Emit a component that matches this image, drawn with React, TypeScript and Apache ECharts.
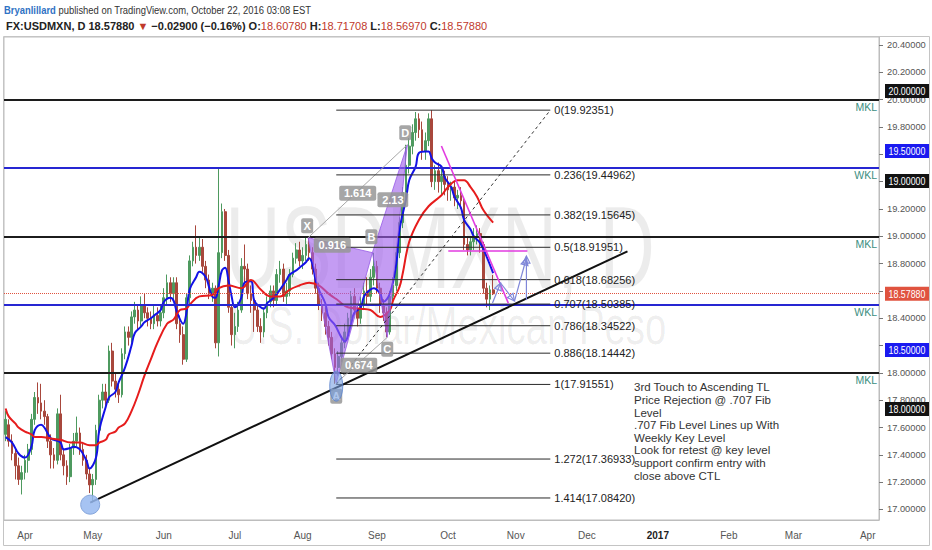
import React, { useEffect, useRef } from "react";
import * as echarts from "echarts";

const SANS = "'Liberation Sans', Arial, sans-serif";

// ---------- data ----------
// [open, close, low, high], one per trading day from 2016-03-24 to 2016-10-21
const candles: number[][] = [
  [17.55, 17.66, 17.5, 17.72], [17.62, 17.5, 17.46, 17.66], [17.5, 17.41, 17.36, 17.55], [17.41, 17.32, 17.22, 17.44],
  [17.32, 17.22, 17.18, 17.38], [17.22, 17.27, 17.11, 17.32], [17.27, 17.36, 17.22, 17.4], [17.36, 17.44, 17.27, 17.48],
  [17.44, 17.66, 17.4, 17.7], [17.66, 17.82, 17.62, 17.86], [17.82, 17.78, 17.7, 17.93], [17.78, 17.72, 17.66, 17.92],
  [17.72, 17.68, 17.62, 17.8], [17.68, 17.5, 17.45, 17.7], [17.5, 17.4, 17.3, 17.55], [17.4, 17.36, 17.3, 17.45],
  [17.36, 17.7, 17.33, 17.74], [17.7, 17.4, 17.36, 17.84], [17.4, 17.32, 17.25, 17.45], [17.32, 17.24, 17.18, 17.36],
  [17.24, 17.45, 17.2, 17.48], [17.45, 17.5, 17.4, 17.56], [17.5, 17.56, 17.46, 17.68], [17.56, 17.44, 17.4, 17.6],
  [17.44, 17.36, 17.32, 17.48], [17.36, 17.26, 17.22, 17.4], [17.26, 17.18, 17.12, 17.3], [17.18, 17.22, 17.05, 17.26],
  [17.22, 17.58, 17.18, 17.62], [17.58, 17.8, 17.54, 17.84], [17.8, 17.86, 17.74, 17.92], [17.86, 17.8, 17.74, 17.92],
  [17.8, 18.16, 17.78, 18.2], [18.16, 17.94, 17.9, 18.22], [17.94, 17.88, 17.82, 18.0], [17.88, 17.84, 17.78, 17.92],
  [17.84, 18.14, 17.82, 18.18], [18.14, 18.3, 18.1, 18.34], [18.3, 18.26, 18.2, 18.34], [18.26, 18.41, 18.22, 18.45],
  [18.41, 18.46, 18.36, 18.52], [18.46, 18.38, 18.32, 18.5], [18.38, 18.5, 18.34, 18.56], [18.5, 18.44, 18.4, 18.58],
  [18.44, 18.4, 18.34, 18.48], [18.4, 18.36, 18.32, 18.45], [18.36, 18.42, 18.32, 18.5], [18.42, 18.38, 18.34, 18.48],
  [18.38, 18.44, 18.34, 18.5], [18.44, 18.55, 18.4, 18.62], [18.55, 18.66, 18.5, 18.72], [18.66, 18.58, 18.52, 18.7],
  [18.58, 18.66, 18.54, 18.7], [18.66, 18.36, 18.32, 18.7], [18.36, 18.28, 18.22, 18.42], [18.28, 18.1, 18.06, 18.34],
  [18.1, 18.55, 18.08, 18.58], [18.55, 18.82, 18.5, 18.86], [18.82, 18.92, 18.78, 18.96], [18.92, 18.86, 18.8, 19.08],
  [18.86, 18.92, 18.82, 19.0], [18.92, 18.78, 18.74, 18.98], [18.78, 18.68, 18.62, 18.82], [18.68, 18.58, 18.54, 18.72],
  [18.58, 18.62, 18.52, 18.66], [18.62, 18.22, 18.18, 18.64], [18.22, 18.88, 18.12, 19.5], [18.88, 19.18, 18.84, 19.24],
  [19.18, 18.86, 18.82, 19.2], [18.86, 18.48, 18.44, 18.9], [18.48, 18.28, 18.2, 18.5], [18.28, 18.34, 18.18, 18.44],
  [18.34, 18.46, 18.3, 18.52], [18.46, 18.78, 18.44, 18.84], [18.78, 18.76, 18.66, 18.94], [18.76, 18.58, 18.54, 18.8],
  [18.58, 18.53, 18.44, 18.64], [18.53, 18.46, 18.3, 18.56], [18.46, 18.34, 18.3, 18.5], [18.34, 18.3, 18.22, 18.4],
  [18.3, 18.44, 18.26, 18.48], [18.44, 18.52, 18.4, 18.56], [18.52, 18.6, 18.48, 18.64], [18.6, 18.53, 18.48, 18.64],
  [18.53, 18.72, 18.5, 18.76], [18.72, 18.76, 18.66, 18.82], [18.76, 18.56, 18.52, 18.8], [18.56, 18.6, 18.5, 18.66],
  [18.6, 18.72, 18.56, 18.76], [18.72, 18.84, 18.7, 18.88], [18.84, 18.9, 18.8, 18.95], [18.9, 18.82, 18.78, 18.96],
  [18.82, 18.86, 18.76, 18.92], [18.86, 18.94, 18.82, 19.0], [18.94, 18.88, 18.82, 18.99], [18.88, 18.76, 18.72, 18.92],
  [18.76, 18.62, 18.58, 18.8], [18.62, 18.5, 18.46, 18.66], [18.5, 18.44, 18.38, 18.54], [18.44, 18.34, 18.28, 18.48],
  [18.34, 18.26, 18.2, 18.38], [18.26, 18.14, 18.1, 18.3], [18.14, 18.04, 17.92, 18.18], [18.04, 18.12, 17.98, 18.16],
  [18.12, 18.22, 18.08, 18.26], [18.22, 18.3, 18.18, 18.36], [18.3, 18.4, 18.26, 18.44], [18.4, 18.56, 18.36, 18.6],
  [18.56, 18.46, 18.42, 18.62], [18.46, 18.4, 18.34, 18.5], [18.4, 18.5, 18.36, 18.56], [18.5, 18.6, 18.46, 18.66],
  [18.6, 18.56, 18.5, 18.7], [18.56, 18.7, 18.52, 18.76], [18.7, 18.78, 18.64, 18.88], [18.78, 18.62, 18.58, 18.82],
  [18.62, 18.5, 18.44, 18.66], [18.5, 18.44, 18.38, 18.54], [18.44, 18.3, 18.26, 18.48], [18.3, 18.56, 18.28, 18.6],
  [18.56, 18.64, 18.5, 18.7], [18.64, 18.88, 18.6, 18.92], [18.88, 19.1, 18.84, 19.14], [19.1, 19.32, 19.06, 19.36],
  [19.32, 19.52, 19.28, 19.67], [19.52, 19.66, 19.46, 19.72], [19.66, 19.76, 19.6, 19.82], [19.76, 19.86, 19.7, 19.91],
  [19.86, 19.78, 19.72, 19.9], [19.78, 19.62, 19.56, 19.84], [19.62, 19.7, 19.56, 19.76], [19.7, 19.86, 19.66, 19.9],
  [19.86, 19.4, 19.36, 19.92351], [19.4, 19.48, 19.34, 19.52], [19.48, 19.4, 19.32, 19.54], [19.4, 19.44, 19.3, 19.5],
  [19.44, 19.38, 19.3, 19.48], [19.38, 19.34, 19.26, 19.44], [19.34, 19.36, 19.26, 19.4], [19.36, 19.28, 19.22, 19.4],
  [19.28, 19.3, 19.2, 19.34], [19.3, 19.26, 19.2, 19.36], [19.26, 18.94, 18.9, 19.28], [18.94, 18.9, 18.86, 19.0],
  [18.9, 18.96, 18.86, 19.0], [18.96, 19.0, 18.9, 19.06], [19.0, 19.02, 18.94, 19.08], [19.02, 18.94, 18.88, 19.06],
  [18.94, 18.62, 18.58, 18.96], [18.62, 18.54, 18.48, 18.66], [18.54, 18.6078, 18.46, 18.64], [18.6078, 18.5788, 18.5697, 18.71708],
];

// moving averages: [bar index, value]
const maFast: number[][] = [
  [0, 17.53], [2, 17.49], [4, 17.41], [6, 17.38], [8, 17.46], [9, 17.58], [11, 17.62], [12, 17.6], [14, 17.52], [15, 17.51],
  [17, 17.49], [18, 17.44], [20, 17.45], [21, 17.46], [23, 17.44], [25, 17.36], [26, 17.3], [28, 17.38], [29, 17.58], [31, 17.75],
  [32, 17.82], [34, 17.86], [35, 17.93], [37, 18.04], [39, 18.2], [40, 18.29], [42, 18.34], [43, 18.37], [45, 18.4], [46, 18.42],
  [48, 18.46], [49, 18.52], [51, 18.55], [52, 18.53], [53, 18.45], [55, 18.36], [56, 18.44], [57, 18.61], [59, 18.7], [60, 18.74],
  [62, 18.7], [63, 18.63], [64, 18.56], [65, 18.55], [66, 18.64], [67, 18.75], [68, 18.77], [69, 18.68], [70, 18.56], [71, 18.48],
  [73, 18.55], [74, 18.66], [76, 18.67], [77, 18.53], [79, 18.48], [80, 18.47], [81, 18.51], [82, 18.53], [83, 18.55], [85, 18.61],
  [87, 18.68], [88, 18.72], [90, 18.75], [91, 18.77], [93, 18.81], [94, 18.84], [95, 18.8], [96, 18.68], [97, 18.61], [99, 18.51],
  [100, 18.41], [102, 18.35], [104, 18.26], [105, 18.23], [107, 18.36], [108, 18.44], [110, 18.48], [111, 18.56], [113, 18.61],
  [114, 18.62], [116, 18.58], [117, 18.52], [119, 18.58], [121, 18.8], [122, 19.05], [124, 19.27], [125, 19.41], [127, 19.51],
  [128, 19.61], [130, 19.62], [131, 19.62], [132, 19.57], [133, 19.54], [135, 19.51], [136, 19.43], [138, 19.36], [139, 19.29],
  [141, 19.21], [142, 19.12], [144, 19.05], [145, 19.0], [147, 18.95], [149, 18.85], [151, 18.73],
];
const maSlow: number[][] = [
  [0, 17.74], [1, 17.68], [3, 17.63], [4, 17.6], [6, 17.57], [8, 17.55], [9, 17.53], [11, 17.53], [14, 17.52], [17, 17.51],
  [20, 17.49], [23, 17.49], [26, 17.47], [28, 17.47], [29, 17.49], [31, 17.51], [32, 17.55], [34, 17.57], [35, 17.6], [37, 17.63],
  [39, 17.72], [41, 17.84], [43, 17.98], [45, 18.1], [47, 18.22], [50, 18.36], [52, 18.39], [54, 18.46], [56, 18.47], [57, 18.5],
  [60, 18.56], [64, 18.57], [66, 18.62], [69, 18.64], [73, 18.62], [76, 18.68], [79, 18.61], [82, 18.56], [85, 18.56], [88, 18.61],
  [91, 18.64], [94, 18.66], [97, 18.64], [100, 18.58], [103, 18.53], [106, 18.48], [110, 18.47], [113, 18.46], [116, 18.41],
  [119, 18.46], [120, 18.53], [122, 18.63], [123, 18.73], [125, 18.96], [128, 19.12], [131, 19.22], [135, 19.3], [137, 19.36],
  [140, 19.41], [142, 19.41], [144, 19.36], [146, 19.29], [148, 19.19], [151, 19.1],
];

const yTicks = [17.0, 17.2, 17.4, 17.6, 17.8, 18.0, 18.2, 18.4, 18.6, 18.8, 19.0, 19.2, 19.4, 19.6, 19.8, 20.0, 20.2, 20.4];
// labels that stay visible (19.4, 19.6 and 18.6 sit fully under the price badges)
const yTickLabels = [17.0, 17.2, 17.4, 17.6, 17.8, 18.0, 18.2, 18.4, 18.8, 19.0, 19.2, 19.8, 20.0, 20.2, 20.4];
const monthNames = ["Jan", "Feb", "Mar", "Apr", "May", "Jun", "Jul", "Aug", "Sep", "Oct", "Nov", "Dec"];

const keyLevels = [20.0, 19.5, 19.0, 18.5, 18.0];
const keyLevelNames = ["MKL", "WKL", "MKL", "WKL", "MKL"];
const keyLevelColors = ["#1c1c1c", "#2626d2", "#1c1c1c", "#2626d2", "#1c1c1c"];
const lastPrice = 18.5788;

const fibLevels = [0, 0.236, 0.382, 0.5, 0.618, 0.707, 0.786, 0.886, 1, 1.272, 1.414];
const fibPrices = [19.92351, 19.44962, 19.15645, 18.91951, 18.68256, 18.50385, 18.34522, 18.14442, 17.91551, 17.36933, 17.0842];
const fibSpan = [102.4, 168.7];

const trendIdx = [26.2, 192.6];
const trendVal = [17.05, 18.89];

const patternNames = ["X", "A", "B", "C", "D"];
const patternIdx = [93.7, 102.4, 113.6, 118.2, 124.4];
const patternVal = [18.99, 17.925, 18.88, 18.26, 19.67];
const ratioLabels = ["0.916", "0.674", "2.13", "1.614"];
const ratioPairs = [[0, 2], [1, 3], [2, 4], [0, 4]];

const magentaLines = [
  [134.97, 19.661, 155.7, 18.511],
  [137.1, 18.892, 161.6, 18.892],
];
const arrowPath = [[150.8, 18.511], [153.3, 18.658], [157.6, 18.526], [161.3, 18.841]];
const arrowVertical = [[161.3, 18.533], [161.3, 18.855]];

const badgeVals = [20.063, 19.624, 19.404, 18.5788, 18.167, 17.735];
const badgeTexts = ["20.00000", "19.50000", "19.00000", "18.57880", "18.50000", "18.00000"];
const badgeColors = ["#121212", "#1a1af0", "#121212", "#e0533f", "#1a1af0", "#121212"];

const noteLines = [
  "3rd Touch to Ascending TL",
  "Price Rejection @ .707 Fib",
  "Level",
  ".707 Fib Level Lines up With",
  "Weekly Key Level",
  "Look for retest @ key level",
  "support confirm entry with",
  "close above CTL",
];

// trading-day categories (weekdays) for the time axis
function buildDates(): string[] {
  const out: string[] = [];
  const d = new Date(Date.UTC(2016, 2, 24));
  const end = Date.UTC(2017, 3, 6);
  while (d.getTime() <= end) {
    const wd = d.getUTCDay();
    if (wd !== 0 && wd !== 6) out.push(d.toISOString().slice(0, 10));
    d.setUTCDate(d.getUTCDate() + 1);
  }
  return out;
}

export default function App() {
  const ref = useRef<HTMLDivElement>(null);

  useEffect(() => {
    document.body.style.margin = "0";
    document.body.style.background = "#eef1f4";
    const el = ref.current!;
    const chart = echarts.init(el, undefined, { renderer: "svg" });

    const dates = buildDates();
    const monthStarts = new Set<number>();
    for (let i = 1; i < dates.length; i++) {
      if (dates[i].slice(5, 7) !== dates[i - 1].slice(5, 7)) monthStarts.add(i);
    }
    const fmtDate = (v: string) => {
      const m = parseInt(v.slice(5, 7), 10) - 1;
      return m === 0 ? "{y|" + v.slice(0, 4) + "}" : monthNames[m];
    };

    const markData: any[] = keyLevels.map((v, k) => ({
      yAxis: v,
      lineStyle: { color: keyLevelColors[k], width: 2, type: "solid" },
      label: {
        show: true,
        formatter: keyLevelNames[k],
        position: "insideEndBottom",
        color: "#3b8e7f",
        fontSize: 10.5,
        fontFamily: SANS,
        distance: [2, 2],
      },
    }));
    markData.push({
      yAxis: lastPrice,
      lineStyle: { color: "#e0533f", width: 1, type: "dotted" },
      label: { show: false },
    });

    chart.setOption({
      animation: false,
      backgroundColor: "#ffffff",
      grid: { left: 4, right: 53, top: 37, bottom: 30, show: true, borderColor: "#bdbdbd", borderWidth: 1 },
      xAxis: {
        type: "category",
        data: dates,
        boundaryGap: true,
        axisLine: { lineStyle: { color: "#bdbdbd" } },
        axisTick: {
          alignWithLabel: true,
          interval: (i: number) => monthStarts.has(i),
          length: 4,
          lineStyle: { color: "#777" },
        },
        axisLabel: {
          interval: (i: number) => monthStarts.has(i),
          formatter: fmtDate,
          color: "#555",
          fontSize: 10,
          fontFamily: SANS,
          margin: 10,
          rich: { y: { color: "#222", fontSize: 10, fontFamily: SANS, fontWeight: "bold" } },
        },
        splitLine: { show: false },
      },
      yAxis: {
        type: "value",
        position: "right",
        min: 16.923,
        max: 20.459,
        axisLine: { show: true, lineStyle: { color: "#bdbdbd" } },
        axisTick: { show: true, customValues: yTicks, length: 4, lineStyle: { color: "#777" } },
        axisLabel: {
          customValues: yTickLabels,
          formatter: (v: number) => v.toFixed(5),
          color: "#555",
          fontSize: 9.3,
          fontFamily: SANS,
          margin: 8,
        },
        splitLine: { show: false },
      },
      series: [
        {
          type: "candlestick",
          data: candles,
          barWidth: "68%",
          itemStyle: {
            color: "#4e9a5f",
            color0: "#a8473c",
            borderColor: "#4e9a5f",
            borderColor0: "#a8473c",
            borderWidth: 1,
          },
          markLine: { symbol: ["none", "none"], silent: true, animation: false, data: markData },
          z: 3,
        },
        {
          type: "line",
          data: maFast,
          smooth: 0.4,
          showSymbol: false,
          symbol: "none",
          lineStyle: { color: "#1212e6", width: 2 },
          z: 4,
        },
        {
          type: "line",
          data: maSlow,
          smooth: 0.4,
          showSymbol: false,
          symbol: "none",
          lineStyle: { color: "#e61c1c", width: 2 },
          z: 4,
        },
      ],
    });

    const P = (i: number, v: number): number[] => {
      const i0 = Math.floor(i);
      const f = i - i0;
      const a = chart.convertToPixel({ xAxisIndex: 0, yAxisIndex: 0 }, [i0, v]) as number[];
      if (f === 0) return a;
      const b = chart.convertToPixel({ xAxisIndex: 0, yAxisIndex: 0 }, [i0 + 1, v]) as number[];
      return [a[0] + (b[0] - a[0]) * f, a[1]];
    };
    const line = (p: number[], q: number[], stroke: string, w: number, dash?: number[], z = 10) => ({
      type: "line",
      z,
      shape: { x1: p[0], y1: p[1], x2: q[0], y2: q[1] },
      style: { stroke, lineWidth: w, lineDash: dash },
      silent: true,
    });
    const text = (x: number, y: number, t: string, font: string, fill: string, align = "left", valign = "middle", z = 12, sx = 1) => ({
      type: "text",
      z,
      x,
      y,
      scaleX: sx,
      silent: true,
      style: { text: t, font, fill, align, verticalAlign: valign, textAlign: align, textVerticalAlign: valign },
    });
    const arrowHead = (from: number[], to: number[], color: string) => {
      const ang = Math.atan2(to[1] - from[1], to[0] - from[0]);
      const L = 7, W = 3.5;
      const bx = to[0] - L * Math.cos(ang), by = to[1] - L * Math.sin(ang);
      return {
        type: "polygon",
        z: 11,
        silent: true,
        shape: {
          points: [
            [to[0], to[1]],
            [bx + W * Math.sin(ang), by - W * Math.cos(ang)],
            [bx - W * Math.sin(ang), by + W * Math.cos(ang)],
          ],
        },
        style: { fill: "none", stroke: color, lineWidth: 1.2 },
      };
    };

    const els: any[] = [];

    // watermark
    els.push({
      type: "text", z: 0, x: 440, y: 248, scaleX: 0.66, silent: true,
      style: { text: "USDMXN, D", font: "116px " + SANS, fill: "rgba(0,0,0,0.075)", align: "center", verticalAlign: "middle", textAlign: "center", textVerticalAlign: "middle" },
    });
    els.push({
      type: "text", z: 0, x: 448, y: 326, scaleX: 0.71, silent: true,
      style: { text: "U.S. Dollar/Mexican Peso", font: "54px " + SANS, fill: "rgba(0,0,0,0.075)", align: "center", verticalAlign: "middle", textAlign: "center", textVerticalAlign: "middle" },
    });

    // harmonic pattern
    const pp = patternIdx.map((ix, k) => P(ix, patternVal[k]));
    els.push({ type: "polygon", z: 9, silent: true, shape: { points: [pp[0], pp[1], pp[2]] }, style: { fill: "rgba(160,96,235,0.62)", stroke: "rgba(150,90,230,0.8)", lineWidth: 1 } });
    els.push({ type: "polygon", z: 9, silent: true, shape: { points: [pp[2], pp[3], pp[4]] }, style: { fill: "rgba(160,96,235,0.62)", stroke: "rgba(150,90,230,0.8)", lineWidth: 1 } });
    els.push(line(pp[0], pp[4], "#a8a8a8", 1, undefined, 9));
    els.push(line(pp[1], pp[3], "#a8a8a8", 1, undefined, 9));

    // fib retracement
    const fx0 = fibSpan[0], fx1 = fibSpan[1];
    fibPrices.forEach((pr, k) => {
      const a = P(fx0, pr), b = P(fx1, pr);
      els.push(line(a, b, "#2a2a2a", 1));
      els.push(text(b[0] + 4, b[1], `${fibLevels[k]}(${pr.toFixed(5)})`, "11px " + SANS, "#222"));
    });
    els.push(line(P(fx0, fibPrices[8]), P(fx1, fibPrices[0]), "#333", 1, [3, 3]));

    // ascending trend line
    const t0 = P(trendIdx[0], trendVal[0]), t1 = P(trendIdx[1], trendVal[1]);
    els.push(line(t0, t1, "#111", 2));
    els.push({ type: "circle", z: 11, silent: true, shape: { cx: t0[0], cy: t0[1] + 2, r: 9.5 }, style: { fill: "rgba(150,185,240,0.85)", stroke: "#86a6db", lineWidth: 1 } });

    // pattern labels
    const boxLabel = (cx: number, cy: number, t: string) => {
      const w = t.length > 1 ? t.length * 6.2 + 6 : 12;
      els.push({ type: "rect", z: 12, silent: true, shape: { x: cx - w / 2, y: cy - 7.5, width: w, height: 15, r: 2 }, style: { fill: "rgba(150,150,150,0.85)" } });
      els.push(text(cx, cy, t, "bold 11px " + SANS, "#fff", "center", "middle", 13));
    };
    const offs = [[-1, -12], [0, 13], [-1, -16], [0, 12], [-2, -12]];
    pp.forEach((p, k) => boxLabel(p[0] + offs[k][0], p[1] + offs[k][1], patternNames[k]));
    ratioPairs.forEach(([a, b], k) => {
      const cx = (pp[a][0] + pp[b][0]) / 2, cy = (pp[a][1] + pp[b][1]) / 2;
      const adj = k === 0 ? [-8, 0] : k === 1 ? [-3, 5] : k === 2 ? [3, 1] : [0, 2];
      boxLabel(cx + adj[0], cy + adj[1], ratioLabels[k]);
    });
    // ellipse at A
    els.push({ type: "ellipse", z: 14, silent: true, shape: { cx: pp[1][0], cy: pp[1][1] + 3, rx: 6.5, ry: 15 }, style: { fill: "rgba(120,160,225,0.6)", stroke: "rgba(90,130,205,0.8)", lineWidth: 1 } });

    // magenta lines
    magentaLines.forEach((m) => els.push(line(P(m[0], m[1]), P(m[2], m[3]), "#e23be0", 1.6)));

    // projection arrows
    const ap = arrowPath.map((q) => P(q[0], q[1]));
    for (let k = 0; k < ap.length - 1; k++) {
      els.push(line(ap[k], ap[k + 1], "#7f86d8", 1.2, undefined, 11));
      els.push(arrowHead(ap[k], ap[k + 1], "#7f86d8"));
    }
    const av0 = P(arrowVertical[0][0], arrowVertical[0][1]), av1 = P(arrowVertical[1][0], arrowVertical[1][1]);
    els.push(line(av0, av1, "#7f86d8", 1.2, undefined, 11));
    els.push(arrowHead(av0, av1, "#7f86d8"));

    // note
    els.push({
      type: "text", z: 12, x: 634, y: 381, silent: true,
      style: { text: noteLines.join("\n"), font: "11.5px " + SANS, fill: "#333", lineHeight: 12.6, align: "left", verticalAlign: "top", textAlign: "left", textVerticalAlign: "top" },
    });

    // axis badges (price labels on the right scale)
    badgeVals.forEach((v, k) => {
      const y = P(0, v)[1];
      els.push({ type: "rect", z: 20, silent: true, shape: { x: 885, y: y - 7, width: 44, height: 14 }, style: { fill: badgeColors[k] } });
      els.push(text(907, y, badgeTexts[k], "10.5px " + SANS, "#fff", "center", "middle", 21, 0.84));
    });

    // header
    els.push({
      type: "text", z: 20, x: 4, y: 10, scaleX: 0.82, silent: true,
      style: {
        text: "{b|Bryanlillard}{n| published on TradingView.com, October 22, 2016 03:08 EST}",
        verticalAlign: "middle", textVerticalAlign: "middle",
        rich: {
          b: { fill: "#2f72c4", color: "#2f72c4", font: "bold 11.5px " + SANS },
          n: { fill: "#333", color: "#333", font: "11.5px " + SANS },
        },
      },
    });
    els.push({
      type: "text", z: 20, x: 6, y: 26, silent: true,
      style: {
        text: "{k|FX:USDMXN, D 18.57880 }{r|▼}{k| −0.02900 (−0.16%) O:}{r|18.60780}{k| H:}{r|18.71708}{k| L:}{r|18.56970}{k| C:}{r|18.57880}",
        verticalAlign: "middle", textVerticalAlign: "middle",
        rich: {
          k: { fill: "#222", color: "#222", font: "bold 11px " + SANS },
          r: { fill: "#c0392b", color: "#c0392b", font: "11px " + SANS },
        },
      },
    });
    // outer frame
    els.push({ type: "rect", z: 1, silent: true, shape: { x: 3.5, y: 36.5, width: 926, height: 509 }, style: { fill: "none", stroke: "#c4c4c4", lineWidth: 1 } });

    chart.setOption({ graphic: els });

    return () => chart.dispose();
  }, []);

  return <div ref={ref} style={{ width: 932, height: 550, background: "#fff" }} />;
}
